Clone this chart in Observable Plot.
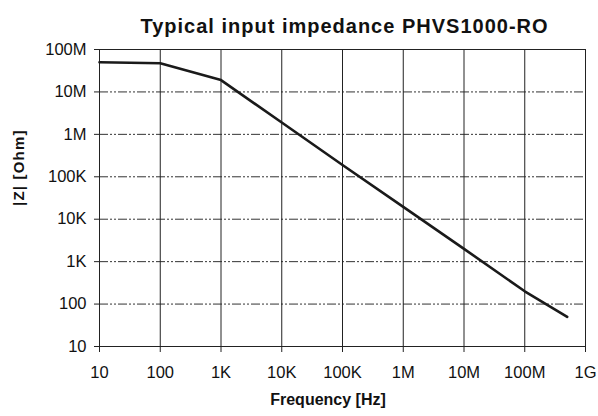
<!DOCTYPE html>
<html>
<head>
<meta charset="utf-8">
<script src="https://cdn.jsdelivr.net/npm/d3@7"></script>
<script src="https://cdn.jsdelivr.net/npm/@observablehq/plot@0.6"></script>
<style>
  html, body { margin: 0; padding: 0; background: #fff; }
  #chart svg { display: block; }
  #chart svg, #chart svg text { font-family: "Liberation Sans", Arimo, Arial, Helvetica, sans-serif !important; }
</style>
</head>
<body>
<div id="chart"></div>
<script>
const title = "Typical input impedance PHVS1000-RO";
const xLabel = "Frequency [Hz]";
const yLabel = "|Z| [Ohm]";

const freqTicks = [10, 1e2, 1e3, 1e4, 1e5, 1e6, 1e7, 1e8, 1e9];
const freqTickLabels = ["10", "100", "1K", "10K", "100K", "1M", "10M", "100M", "1G"];
const zTicks = [10, 1e2, 1e3, 1e4, 1e5, 1e6, 1e7, 1e8];
const zTickLabels = ["10", "100", "1K", "10K", "100K", "1M", "10M", "100M"];

const frequency = [10, 100, 1e3, 1e4, 1e5, 1e6, 1e7, 1e8, 5e8];
const impedance = [50e6, 47.5e6, 19e6, 1.9e6, 1.9e5, 1.95e4, 2e3, 2e2, 50];

const data = frequency.map((f, i) => ({f, z: impedance[i]}));
const fLab = new Map(freqTicks.map((t, i) => [t, freqTickLabels[i]]));
const zLab = new Map(zTicks.map((t, i) => [t, zTickLabels[i]]));

const chart = Plot.plot({
  width: 598,
  height: 416,
  marginLeft: 99,
  marginRight: 13,
  marginTop: 49,
  marginBottom: 70,
  style: {fontFamily: "Liberation Sans, Arial, sans-serif", fontSize: "16.5px", color: "#111", background: "#fff"},
  x: {type: "log", domain: [10, 1e9]},
  y: {type: "log", domain: [10, 1e8]},
  marks: [
    Plot.ruleY(zTicks.slice(1), {stroke: "#333", strokeWidth: 1, strokeDasharray: "9,2,2,2,2,2"}),
    Plot.ruleX(freqTicks.slice(1), {stroke: "#222", strokeWidth: 1}),
    Plot.frame({stroke: "#222", strokeWidth: 1}),
    Plot.axisX({ticks: freqTicks, tickFormat: d => fLab.get(d), tickSize: 6, tickPadding: 14, label: null, stroke: "#222"}),
    Plot.axisY({ticks: zTicks, tickFormat: d => zLab.get(d), tickSize: 5, tickPadding: 8, label: null, stroke: "#222"}),
    Plot.line(data, {x: "f", y: "z", stroke: "#1a1a1a", strokeWidth: 2.6}),
    Plot.text([title], {frameAnchor: "top", dx: 2, dy: -31, fontSize: 20, fontWeight: "bold", fill: "#111"}),
    Plot.text([xLabel], {frameAnchor: "bottom", dx: -14.5, dy: 58, fontSize: 16, fontWeight: "bold", fill: "#111"}),
    Plot.text([yLabel], {frameAnchor: "left", dx: -80, dy: 8, rotate: -90, fontSize: 15, fontWeight: "bold", fill: "#111"})
  ]
});
chart.querySelectorAll("text").forEach(t => {
  if (t.textContent === title) t.setAttribute("letter-spacing", "1");
  if (t.textContent === yLabel) t.setAttribute("letter-spacing", "1.2");
});
document.getElementById("chart").appendChild(chart);
</script>
</body>
</html>
